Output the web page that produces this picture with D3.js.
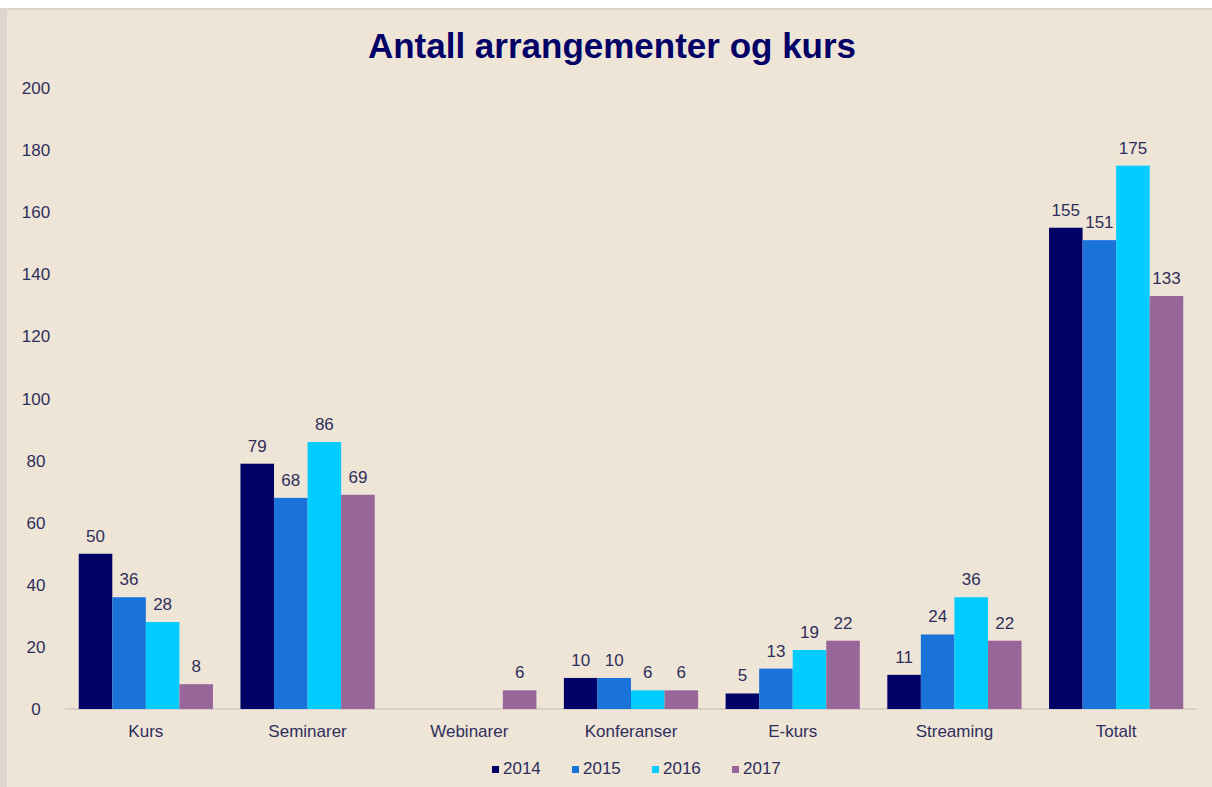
<!DOCTYPE html>
<html>
<head>
<meta charset="utf-8">
<script src="https://d3js.org/d3.v7.min.js"></script>
<style>
  body { margin: 0; background: #ffffff; }
  svg text { font-family: "Liberation Sans", Arial, sans-serif; }
</style>
</head>
<body>
<div id="chart"></div>
<script>
var categories = ["Kurs", "Seminarer", "Webinarer", "Konferanser", "E-kurs", "Streaming", "Totalt"];
var years = ["2014", "2015", "2016", "2017"];
var v2014 = [50, 79, null, 10, 5, 11, 155];
var v2015 = [36, 68, null, 10, 13, 24, 151];
var v2016 = [28, 86, null, 6, 19, 36, 175];
var v2017 = [8, 69, 6, 6, 22, 22, 133];
var yTicks = [0, 20, 40, 60, 80, 100, 120, 140, 160, 180, 200];
var colors = ["#000066", "#1a73d9", "#00ccff", "#996699"];

var series = [v2014, v2015, v2016, v2017];

var W = 1212, H = 787;
var svg = d3.select("#chart").append("svg")
    .attr("width", W).attr("height", H);

// panel background with thin shaded edge
svg.append("rect").attr("x", 0).attr("y", 8).attr("width", W).attr("height", H - 8).attr("fill", "#ddd6cc");
svg.append("rect").attr("x", 7).attr("y", 10).attr("width", W - 7).attr("height", H - 10).attr("fill", "#efe5d7");

svg.append("text")
    .attr("x", 612).attr("y", 58)
    .attr("text-anchor", "middle")
    .style("font-size", "35px")
    .style("font-weight", "bold")
    .style("fill", "#000066")
    .text("Antall arrangementer og kurs");

var x0 = d3.scaleBand().domain(categories).range([65, 1197]).paddingInner(0.17).paddingOuter(0.085);
var x1 = d3.scaleBand().domain(years).range([0, x0.bandwidth()]);
var y = d3.scaleLinear().domain([0, 200]).range([709, 88]);

// y tick labels
svg.append("g").selectAll("text")
    .data(yTicks).enter().append("text")
    .attr("x", 36).attr("y", function (d) { return y(d) + 6; })
    .attr("text-anchor", "middle")
    .style("font-size", "17px")
    .style("fill", "#2e2e5c")
    .text(function (d) { return d; });

// baseline
svg.append("line")
    .attr("x1", 65).attr("x2", 1197)
    .attr("y1", y(0)).attr("y2", y(0))
    .attr("stroke", "#cfc8bf").attr("stroke-width", 1.5);

var groups = svg.append("g").selectAll("g")
    .data(categories).enter().append("g")
    .attr("transform", function (d) { return "translate(" + x0(d) + ",0)"; });

groups.each(function (cat, ci) {
    var g = d3.select(this);
    years.forEach(function (yr, si) {
        var v = series[si][ci];
        if (v == null) return;
        g.append("rect")
            .attr("x", x1(yr))
            .attr("y", y(v))
            .attr("width", x1.bandwidth())
            .attr("height", y(0) - y(v))
            .attr("fill", colors[si]);
        g.append("text")
            .attr("x", x1(yr) + x1.bandwidth() / 2)
            .attr("y", y(v) - 12)
            .attr("text-anchor", "middle")
            .style("font-size", "17px")
            .style("fill", "#2e2e5c")
            .text(v);
    });
});

// category labels
svg.append("g").selectAll("text")
    .data(categories).enter().append("text")
    .attr("x", function (d) { return x0(d) + x0.bandwidth() / 2; })
    .attr("y", 737)
    .attr("text-anchor", "middle")
    .style("font-size", "17px")
    .style("fill", "#2e2e5c")
    .text(function (d) { return d; });

// legend
var legend = svg.append("g").selectAll("g")
    .data(years).enter().append("g")
    .attr("transform", function (d, i) { return "translate(" + (492 + i * 80) + ",774)"; });
legend.append("rect")
    .attr("x", 0).attr("y", -8).attr("width", 7).attr("height", 7)
    .attr("fill", function (d, i) { return colors[i]; });
legend.append("text")
    .attr("x", 11).attr("y", 0)
    .style("font-size", "17px")
    .style("fill", "#2e2e5c")
    .text(function (d) { return d; });
</script>
</body>
</html>
